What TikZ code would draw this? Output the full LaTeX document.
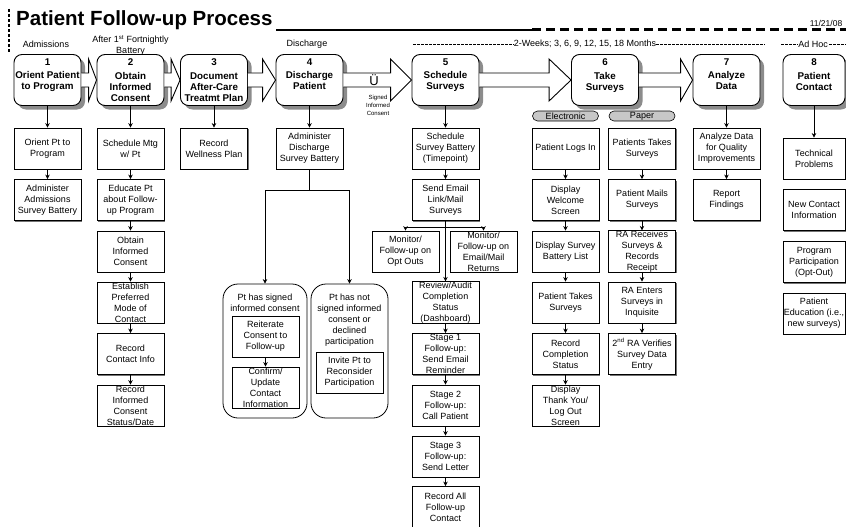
\documentclass[tikz,border=0pt]{standalone}
\usepackage{fontspec}
\setmainfont{Liberation Sans}
\usetikzlibrary{arrows.meta,positioning,shadows}
% wide white arrow between two top boxes: from, to, head length
\newcommand{\bigarrow}[3]{\draw[blockarrow] ([yshift=7pt]#1.east) -- ([xshift=-#3,yshift=7pt]#2.west)
  -- ([xshift=-#3,yshift=21pt]#2.west) -- (#2.west) -- ([xshift=-#3,yshift=-21pt]#2.west)
  -- ([xshift=-#3,yshift=-7pt]#2.west) -- ([yshift=-7pt]#1.east)}
\tikzset{
  topbox/.style={draw, line width=0.9pt, rounded corners=8pt, fill=white,
    minimum width=67pt, minimum height=51pt,
    drop shadow={shadow xshift=4pt, shadow yshift=-4pt, fill=black!45, opacity=1}},
  toptext/.style={anchor=north, yshift=-3.5pt, align=center, inner sep=1pt,
    font=\fontsize{9.8}{11}\selectfont\bfseries},
  subbox/.style={draw, line width=0.8pt, fill=white, minimum width=67pt, minimum height=41pt,
    inner xsep=1pt, inner ysep=0pt, align=center, font=\fontsize{9}{11}\selectfont,
    drop shadow={shadow xshift=1.2pt, shadow yshift=-1.2pt, fill=black!55, opacity=1}},
  holder/.style={draw, line width=0.8pt, rounded corners=15pt},
  pill/.style={draw, line width=0.6pt, fill=black!22, rounded corners=5pt,
    minimum width=66pt, minimum height=10pt, inner sep=0pt, font=\fontsize{9}{10}\selectfont},
  link/.style={-{Stealth[length=4.5pt,width=4.5pt]}, line width=0.8pt},
  blockarrow/.style={line width=0.9pt, fill=white},
  note/.style={font=\fontsize{9}{11}\selectfont, align=center, inner sep=0pt},
  hyph/.style={line width=0.4pt, dash pattern=on 2.6pt off 1.4pt},
}
\begin{document}
\begin{tikzpicture}[x=1pt,y=-1pt]
  \useasboundingbox (0,0) rectangle (846,527);

  % title bar
  \node[anchor=base west, inner sep=0pt, font=\fontsize{20.5}{22}\selectfont\bfseries] (title) at (16,26) {Patient Follow-up Process};
  \node[inner sep=0pt, font=\fontsize{8.5}{10}\selectfont] (date) at (826,23) {11/21/08};
  \draw[line width=1.3pt] (276,30) -- (532,30);
  \draw[line width=3pt, dash pattern=on 9pt off 5pt] (532,30) -- (846,30);
  \draw[line width=1.5pt, dash pattern=on 3pt off 2pt] (9,9) -- (9,53);

  % phase headings
  \node[note] (hadm) at (46,44) {Admissions};
  \node[note] (hbat) at (130.5,45.5) {After 1\textsuperscript{st} Fortnightly\\Battery};
  \node[note] (hdis) at (307,44) {Discharge};
  \node[note] (freq) at (585,44) {2-Weeks; 3, 6, 9, 12, 15, 18 Months};
  \coordinate (fq0) at (413,44);
  \coordinate (fq1) at (765,44);
  \draw[hyph] (fq0) -- (freq.west);
  \draw[hyph] (freq.east) -- (fq1);
  \node[note] (adhoc) at (813,44) {Ad Hoc};
  \coordinate (ah0) at (781,44);
  \coordinate (ah1) at (846,44);
  \draw[hyph] (ah0) -- ([xshift=-1pt]adhoc.west);
  \draw[hyph] ([xshift=1pt]adhoc.east) -- (ah1);

  % main steps
  \node[topbox] (b1) at (47.5,80) {};
  \node[toptext] at (b1.north) {1\\[2.5pt]Orient Patient\\to Program};
  \node[topbox] (b2) at (130.5,80) {};
  \node[toptext] at (b2.north) {2\\[2.5pt]Obtain\\Informed\\Consent};
  \node[topbox] (b3) at (214,80) {};
  \node[toptext] at (b3.north) {3\\[2.5pt]Document\\After-Care\\Treatmt Plan};
  \node[topbox] (b4) at (309.5,80) {};
  \node[toptext] at (b4.north) {4\\[2.5pt]Discharge\\Patient};
  \node[topbox] (b5) at (445.5,80) {};
  \node[toptext] at (b5.north) {5\\[2.5pt]Schedule\\Surveys};
  \node[topbox] (b6) at (605,80) {};
  \node[toptext] at (b6.north) {6\\[2.5pt]Take\\Surveys};
  \node[topbox] (b7) at (726.5,80) {};
  \node[toptext] at (b7.north) {7\\[2.5pt]Analyze\\Data};
  \node[topbox, minimum width=62pt] (b8) at (814,80) {};
  \node[toptext] at (b8.north) {8\\[2.5pt]Patient\\Contact};

  \bigarrow{b1}{b2}{8pt};
  \bigarrow{b2}{b3}{9pt};
  \bigarrow{b3}{b4}{13pt};
  \bigarrow{b4}{b5}{21pt};
  \bigarrow{b5}{b6}{22pt};
  \bigarrow{b6}{b7}{12pt};
  \node[inner sep=0pt, font=\fontsize{13}{14}\selectfont] (tick) at (374,80.5) {Ü};
  \node[note, font=\fontsize{6}{8}\selectfont] (signedtxt) at (378,105) {Signed\\Informed\\Consent};

  % 1 admissions
  \node[subbox] (o1) at (47.5,148.5) {Orient Pt to\\Program};
  \node[subbox] (o2) at (47.5,200) {Administer\\Admissions\\Survey Battery};
  \draw[link] (b1) -- (o1);
  \draw[link] (o1) -- (o2);

  % 2 consent
  \node[subbox] (c1) at (130.5,148.5) {Schedule Mtg\\w/ Pt};
  \node[subbox] (c2) at (130.5,200) {Educate Pt\\about Follow-\\up Program};
  \node[subbox] (c3) at (130.5,251.5) {Obtain\\Informed\\Consent};
  \node[subbox] (c4) at (130.5,302.5) {Establish\\Preferred\\Mode of\\Contact};
  \node[subbox] (c5) at (130.5,354) {Record\\Contact Info};
  \node[subbox] (c6) at (130.5,405.5) {Record\\Informed\\Consent\\Status/Date};
  \draw[link] (b2) -- (c1);
  \draw[link] (c1) -- (c2);
  \draw[link] (c2) -- (c3);
  \draw[link] (c3) -- (c4);
  \draw[link] (c4) -- (c5);
  \draw[link] (c5) -- (c6);

  % 3 plan
  \node[subbox] (w1) at (214,148.5) {Record\\Wellness Plan};
  \draw[link] (b3) -- (w1);

  % 4 discharge
  \node[subbox] (d1) at (309.5,148.5) {Administer\\Discharge\\Survey Battery};
  \draw[link] (b4) -- (d1);
  \node[holder, minimum width=84pt, minimum height=134pt] (signed) at (265,351) {};
  \node[note, below=10pt of signed.north] (signedhd) {Pt has signed\\informed consent};
  \node[holder, minimum width=77pt, minimum height=134pt] (notsigned) at (349.5,351) {};
  \node[note, below=10pt of notsigned.north] (notsignedhd) {Pt has not\\signed informed\\consent or\\declined\\participation};
  \node[subbox] (r1) at (265.5,336.5) {Reiterate\\Consent to\\Follow-up};
  \node[subbox] (r2) at (265.5,387.5) {Confirm/\\Update\\Contact\\Information};
  \node[subbox] (inv) at (349.5,372.5) {Invite Pt to\\Reconsider\\Participation};
  \draw[line width=0.8pt] (d1.south) -- ++(0,21) coordinate (fork4);
  \draw[link] (fork4) -| (signed.north);
  \draw[link] (fork4) -| (notsigned.north);
  \draw[link] (r1) -- (r2);

  % 5 scheduling
  \node[subbox] (s1) at (445.5,148.5) {Schedule\\Survey Battery\\(Timepoint)};
  \node[subbox] (s2) at (445.5,200) {Send Email\\Link/Mail\\Surveys};
  \node[subbox] (m1) at (405.5,251.5) {Monitor/\\Follow-up on\\Opt Outs};
  \node[subbox] (m2) at (483.5,251.5) {Monitor/\\Follow-up on\\Email/Mail\\Returns};
  \node[subbox] (s3) at (445.5,302.5) {Review/Audit\\Completion\\Status\\(Dashboard)};
  \node[subbox] (s4) at (445.5,354) {Stage 1\\Follow-up:\\Send Email\\Reminder};
  \node[subbox] (s5) at (445.5,405.5) {Stage 2\\Follow-up:\\Call Patient};
  \node[subbox] (s6) at (445.5,456.5) {Stage 3\\Follow-up:\\Send Letter};
  \node[subbox] (s7) at (445.5,507) {Record All\\Follow-up\\Contact};
  \draw[link] (b5) -- (s1);
  \draw[link] (s1) -- (s2);
  \draw[line width=0.8pt] (s2.south) -- ++(0,6) coordinate (fork5);
  \draw[link] (fork5) -| (m1.north);
  \draw[link] (fork5) -| (m2.north);
  \draw[link] (fork5) -- (s3.north);
  \draw[link] (s3) -- (s4);
  \draw[link] (s4) -- (s5);
  \draw[link] (s5) -- (s6);
  \draw[link] (s6) -- (s7);

  % 6 surveys
  \node[pill] (elec) at (565.5,116) {Electronic};
  \node[pill] (paper) at (642,116) {Paper};
  \node[subbox] (e1) at (565.5,148.5) {Patient Logs In};
  \node[subbox] (e2) at (565.5,200) {Display\\Welcome\\Screen};
  \node[subbox] (e3) at (565.5,251.5) {Display Survey\\Battery List};
  \node[subbox] (e4) at (565.5,302.5) {Patient Takes\\Surveys};
  \node[subbox] (e5) at (565.5,354) {Record\\Completion\\Status};
  \node[subbox] (e6) at (565.5,405.5) {Display\\Thank You/\\Log Out\\Screen};
  \draw[link] (e1) -- (e2);
  \draw[link] (e2) -- (e3);
  \draw[link] (e3) -- (e4);
  \draw[link] (e4) -- (e5);
  \draw[link] (e5) -- (e6);
  \node[subbox] (p1) at (642,148.5) {Patients Takes\\Surveys};
  \node[subbox] (p2) at (642,200) {Patient Mails\\Surveys};
  \node[subbox] (p3) at (642,251.5) {RA Receives\\Surveys \&\\Records\\Receipt};
  \node[subbox] (p4) at (642,302.5) {RA Enters\\Surveys in\\Inquisite};
  \node[subbox] (p5) at (642,354) {2\textsuperscript{nd} RA Verifies\\Survey Data\\Entry};
  \draw[link] (p1) -- (p2);
  \draw[link] (p2) -- (p3);
  \draw[link] (p3) -- (p4);
  \draw[link] (p4) -- (p5);

  % 7 analysis
  \node[subbox] (a1) at (726.5,148.5) {Analyze Data\\for Quality\\Improvements};
  \node[subbox] (a2) at (726.5,200) {Report\\Findings};
  \draw[link] (b7) -- (a1);
  \draw[link] (a1) -- (a2);

  % 8 contact
  \node[subbox, minimum width=62pt] (h1) at (814,158.5) {Technical\\Problems};
  \node[subbox, minimum width=62pt] (h2) at (814,210) {New Contact\\Information};
  \node[subbox, minimum width=62pt] (h3) at (814,262) {Program\\Participation\\(Opt-Out)};
  \node[subbox, minimum width=62pt] (h4) at (814,313.5) {Patient\\Education (i.e.,\\new surveys)};
  \draw[link] (b8) -- (h1);
\end{tikzpicture}
\end{document}
